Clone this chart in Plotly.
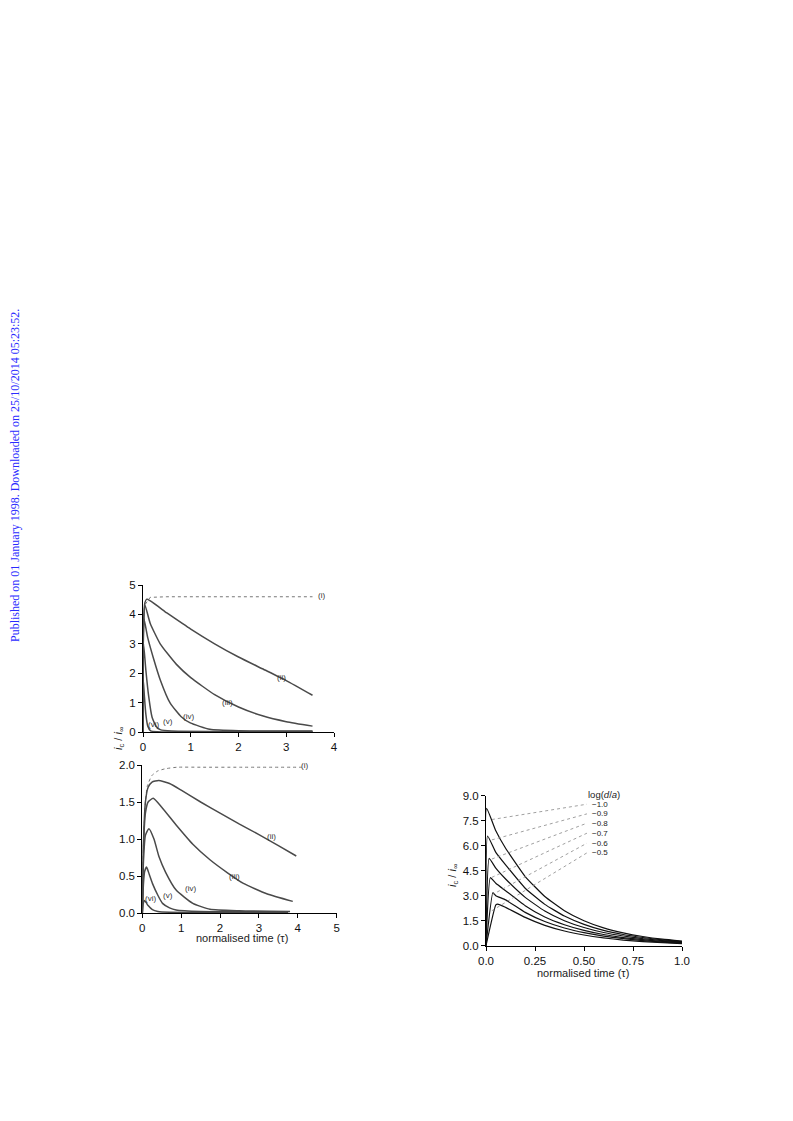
import plotly.graph_objects as go

# ---------------- Data: panel (a) ----------------
a_i_t = [0.05, 0.15, 0.5, 1.0, 2.0, 3.0, 3.55]
a_i_v = [4.35, 4.58, 4.6, 4.6, 4.6, 4.6, 4.6]
a_ii_t = [0.0, 0.01, 0.04, 0.08, 0.5, 1.0, 1.5, 2.0, 2.5, 3.0, 3.55]
a_ii_v = [0.0, 3.6, 4.4, 4.52, 4.05, 3.5, 3.0, 2.55, 2.15, 1.75, 1.25]
a_iii_t = [0.0, 0.01, 0.04, 0.15, 0.36, 0.7, 1.0, 1.5, 2.0, 2.5, 3.0, 3.55]
a_iii_v = [0.0, 3.5, 4.32, 3.7, 3.0, 2.3, 1.85, 1.27, 0.85, 0.55, 0.35, 0.2]
a_iv_t = [0.0, 0.005, 0.02, 0.1, 0.22, 0.36, 0.57, 0.8, 0.99, 1.4, 2.0, 3.55]
a_iv_v = [0.0, 3.0, 3.85, 3.2, 2.5, 1.78, 0.98, 0.52, 0.31, 0.09, 0.04, 0.03]
a_v_t = [0.0, 0.004, 0.012, 0.06, 0.12, 0.19, 0.28, 0.36, 0.6, 3.55]
a_v_v = [0.0, 2.4, 3.0, 2.1, 1.2, 0.5, 0.18, 0.08, 0.03, 0.02]
a_vi_t = [0.0, 0.003, 0.006, 0.03, 0.06, 0.1, 0.16, 0.3, 3.55]
a_vi_v = [0.0, 1.4, 1.78, 1.2, 0.6, 0.2, 0.04, 0.01, 0.01]

# ---------------- Data: panel (b) ----------------
b_i_t = [0.0, 0.03, 0.08, 0.13, 0.25, 0.4, 0.6, 0.9, 1.5, 2.5, 4.1]
b_i_v = [0.0, 0.95, 1.5, 1.72, 1.86, 1.92, 1.95, 1.97, 1.97, 1.97, 1.97]
b_ii_t = [0.0, 0.03, 0.08, 0.15, 0.25, 0.42, 0.7, 1.0, 1.5, 2.0, 2.5, 3.0, 3.5, 3.96]
b_ii_v = [0.0, 0.95, 1.5, 1.7, 1.77, 1.79, 1.75, 1.66, 1.5, 1.35, 1.2, 1.06, 0.91, 0.77]
b_iii_t = [0.0, 0.03, 0.08, 0.15, 0.28, 0.5, 0.87, 1.3, 1.74, 2.2, 2.6, 3.2, 3.87]
b_iii_v = [0.0, 0.9, 1.35, 1.5, 1.55, 1.43, 1.19, 0.93, 0.72, 0.54, 0.40, 0.26, 0.157]
b_iv_t = [0.0, 0.03, 0.08, 0.17, 0.3, 0.43, 0.6, 0.87, 1.3, 1.74, 2.5, 3.8]
b_iv_v = [0.0, 0.7, 1.05, 1.14, 1.0, 0.76, 0.55, 0.31, 0.13, 0.05, 0.03, 0.02]
b_v_t = [0.0, 0.03, 0.06, 0.11, 0.18, 0.26, 0.4, 0.52, 0.7, 0.87, 1.5, 3.75]
b_v_v = [0.0, 0.4, 0.56, 0.62, 0.52, 0.40, 0.24, 0.13, 0.07, 0.04, 0.02, 0.015]
b_vi_t = [0.0, 0.02, 0.05, 0.1, 0.15, 0.26, 0.4, 0.7, 3.75]
b_vi_v = [0.0, 0.12, 0.17, 0.14, 0.1, 0.045, 0.02, 0.01, 0.01]

# ---------------- Data: right panel ----------------
r_t = [0.0, 0.05, 0.1, 0.2, 0.3, 0.4, 0.5, 0.6, 0.7, 0.8, 0.9, 1.0]
r_labels = ["\u22121.0", "\u22120.9", "\u22120.8", "\u22120.7", "\u22120.6", "\u22120.5"]
r_peak_t = [0.003, 0.008, 0.016, 0.022, 0.035, 0.06]
r_peak_v = [8.24, 6.58, 5.24, 4.08, 3.18, 2.50]
r_m10 = [0.0, 6.9, 5.85, 4.15, 2.95, 2.1, 1.5, 1.07, 0.77, 0.55, 0.39, 0.28]
r_m09 = [0.0, 5.6, 4.85, 3.45, 2.48, 1.78, 1.28, 0.92, 0.67, 0.49, 0.35, 0.25]
r_m08 = [0.0, 4.65, 4.0, 2.9, 2.08, 1.5, 1.09, 0.79, 0.58, 0.42, 0.31, 0.22]
r_m07 = [0.0, 3.75, 3.3, 2.4, 1.72, 1.26, 0.92, 0.67, 0.49, 0.36, 0.26, 0.19]
r_m06 = [0.0, 3.0, 2.75, 2.0, 1.45, 1.06, 0.78, 0.57, 0.42, 0.31, 0.22, 0.16]
r_m05 = [0.0, 2.45, 2.3, 1.7, 1.22, 0.88, 0.64, 0.47, 0.34, 0.25, 0.18, 0.13]
r_series = [r_m10, r_m09, r_m08, r_m07, r_m06, r_m05]
# leader lines: start on curve, end at label
r_lead_start = [7.57, 6.35, 5.2, 4.1, 3.05, 2.1]
r_lead_end = [8.49, 7.91, 7.35, 6.75, 6.15, 5.57]

FONT = "Liberation Sans, Arial, sans-serif"
GREY = "#4a4a4a"
OFF = 8  # browser body margin (px)
W, H = 793 - OFF, 1121 - OFF


def px_dom(x0, x1):
    return [(x0 - OFF) / W, (x1 - OFF) / W]


def py_dom(ybot, ytop):
    return [1 - (ybot - OFF) / H, 1 - (ytop - OFF) / H]


def ppx(x):
    return (x - OFF) / W


def ppy(y):
    return 1 - (y - OFF) / H


fig = go.Figure()

# panel (a)
a_curves = [(a_ii_t, a_ii_v), (a_iii_t, a_iii_v), (a_iv_t, a_iv_v), (a_v_t, a_v_v), (a_vi_t, a_vi_v)]
fig.add_trace(go.Scatter(x=a_i_t, y=a_i_v, mode="lines", line=dict(color="#777", width=1, dash="dot"),
                         xaxis="x", yaxis="y", showlegend=False))
for t, v in a_curves:
    fig.add_trace(go.Scatter(x=t, y=v, mode="lines", line=dict(color=GREY, width=1.5, shape="spline", smoothing=0.5),
                             xaxis="x", yaxis="y", showlegend=False))

# panel (b)
fig.add_trace(go.Scatter(x=b_i_t, y=b_i_v, mode="lines", line=dict(color="#777", width=1, dash="dot", shape="spline", smoothing=0.5),
                         xaxis="x2", yaxis="y2", showlegend=False))
b_curves = [(b_ii_t, b_ii_v), (b_iii_t, b_iii_v), (b_iv_t, b_iv_v), (b_v_t, b_v_v), (b_vi_t, b_vi_v)]
for t, v in b_curves:
    fig.add_trace(go.Scatter(x=t, y=v, mode="lines", line=dict(color=GREY, width=1.5, shape="spline", smoothing=0.5),
                             xaxis="x2", yaxis="y2", showlegend=False))

# right panel
for i, ser in enumerate(r_series):
    t = [r_t[0], r_peak_t[i]] + r_t[1:]
    v = [ser[0], r_peak_v[i]] + ser[1:]
    pairs = sorted(zip(t, v))
    fig.add_trace(go.Scatter(x=[p[0] for p in pairs], y=[p[1] for p in pairs], mode="lines",
                             line=dict(color="#111", width=1.2, shape="spline", smoothing=0.4),
                             xaxis="x3", yaxis="y3", showlegend=False))
    fig.add_trace(go.Scatter(x=[0.03, 0.515], y=[r_lead_start[i], r_lead_end[i]], mode="lines",
                             line=dict(color="#888", width=0.8, dash="dot"),
                             xaxis="x3", yaxis="y3", showlegend=False))

axis_common = dict(showline=True, linecolor="black", linewidth=1, ticks="outside", ticklen=4,
                   tickcolor="black", showgrid=False, zeroline=False, automargin=False,
                   tickfont=dict(family=FONT, size=11.5, color="#111"))

fig.update_layout(
    width=W, height=H, margin=dict(l=0, r=0, t=0, b=0, autoexpand=False),
    paper_bgcolor="white", plot_bgcolor="white",
    xaxis=dict(domain=px_dom(143, 334), range=[0, 4], tickvals=[0, 1, 2, 3, 4], anchor="y", **axis_common),
    yaxis=dict(domain=py_dom(732, 585), range=[0, 5], tickvals=[0, 1, 2, 3, 4, 5], anchor="x", **axis_common),
    xaxis2=dict(domain=px_dom(142.3, 336.7), range=[0, 5], tickvals=[0, 1, 2, 3, 4, 5], anchor="y2", **axis_common),
    yaxis2=dict(domain=py_dom(913, 765), range=[0, 2], tickvals=[0, 0.5, 1, 1.5, 2],
                ticktext=["0.0", "0.5", "1.0", "1.5", "2.0"], anchor="x2", **axis_common),
    xaxis3=dict(domain=px_dom(486, 682), range=[0, 1], tickvals=[0, 0.25, 0.5, 0.75, 1.0],
                ticktext=["0.0", "0.25", "0.50", "0.75", "1.0"], anchor="y3", **axis_common),
    yaxis3=dict(domain=py_dom(945.7, 795.7), range=[0, 9], tickvals=[0, 1.5, 3, 4.5, 6, 7.5, 9],
                ticktext=["0.0", "1.5", "3.0", "4.5", "6.0", "7.5", "9.0"], anchor="x3", **axis_common),
)

ann = []
small = dict(family=FONT, size=8, color="#333")
# panel (a) labels
for txt, x, y in [("(i)", 3.73, 4.63), ("(ii)", 2.9, 1.87), ("(iii)", 1.77, 1.02), ("(iv)", 0.96, 0.54),
                  ("(v)", 0.52, 0.37), ("(vi)", 0.21, 0.27)]:
    ann.append(dict(text=txt, x=x, y=y, xref="x", yref="y", showarrow=False, font=small,
                    xanchor="center", yanchor="middle"))
ann.append(dict(text="(a)", x=0.05, y=5.05, xref="x", yref="y", xanchor="left", yanchor="middle",
                showarrow=False, font=dict(family=FONT, size=11.5, color="#111")))
# panel (b) labels
for txt, x, y in [("(i)", 4.18, 2.0), ("(ii)", 3.33, 1.03), ("(iii)", 2.36, 0.5), ("(iv)", 1.23, 0.33),
                  ("(v)", 0.67, 0.23), ("(vi)", 0.21, 0.2)]:
    ann.append(dict(text=txt, x=x, y=y, xref="x2", yref="y2", showarrow=False, font=small,
                    xanchor="center", yanchor="middle"))
ann.append(dict(text="(b)", x=0.05, y=2.02, xref="x2", yref="y2", xanchor="left", yanchor="middle",
                showarrow=False, font=dict(family=FONT, size=11.5, color="#111")))
# right panel labels
for i, lab in enumerate(r_labels):
    ann.append(dict(text=lab, x=0.53, y=r_lead_end[i], xref="x3", yref="y3", xanchor="left",
                    yanchor="middle", showarrow=False, font=dict(family=FONT, size=8, color="#222")))
ann.append(dict(text="log(<i>d</i>/<i>a</i>)", x=ppx(604), y=ppy(794), xref="paper", yref="paper",
                showarrow=False, xanchor="center", yanchor="middle",
                font=dict(family=FONT, size=9.5, color="#222")))
# axis titles
ann.append(dict(text="normalised time (\u03c4)", x=ppx(242), y=ppy(938), xref="paper", yref="paper",
                xanchor="center", yanchor="middle",
                showarrow=False, font=dict(family=FONT, size=11, color="#222")))
ann.append(dict(text="normalised time (\u03c4)", x=ppx(583), y=ppy(973), xref="paper", yref="paper",
                xanchor="center", yanchor="middle",
                showarrow=False, font=dict(family=FONT, size=11, color="#222")))
ann.append(dict(text="<i>i</i><sub>c</sub> / <i>i</i><sub>\u221e</sub>", x=ppx(119), y=ppy(739),
                xref="paper", yref="paper", showarrow=False, textangle=-90, xanchor="center", yanchor="middle",
                font=dict(family=FONT, size=11, color="#222")))
ann.append(dict(text="<i>i</i><sub>c</sub> / <i>i</i><sub>\u221e</sub>", x=ppx(453), y=ppy(876),
                xref="paper", yref="paper", showarrow=False, textangle=-90, xanchor="center", yanchor="middle",
                font=dict(family=FONT, size=11, color="#222")))
# side watermark
ann.append(dict(text="Published on 01 January 1998. Downloaded on 25/10/2014 05:23:52.", x=ppx(15), y=ppy(476),
                xref="paper", yref="paper", showarrow=False, textangle=-90, xanchor="center", yanchor="middle",
                font=dict(family="Liberation Serif, Times New Roman, serif", size=12, color="#2a2aff")))
fig.update_layout(annotations=ann)

fig.write_html("out.html")
